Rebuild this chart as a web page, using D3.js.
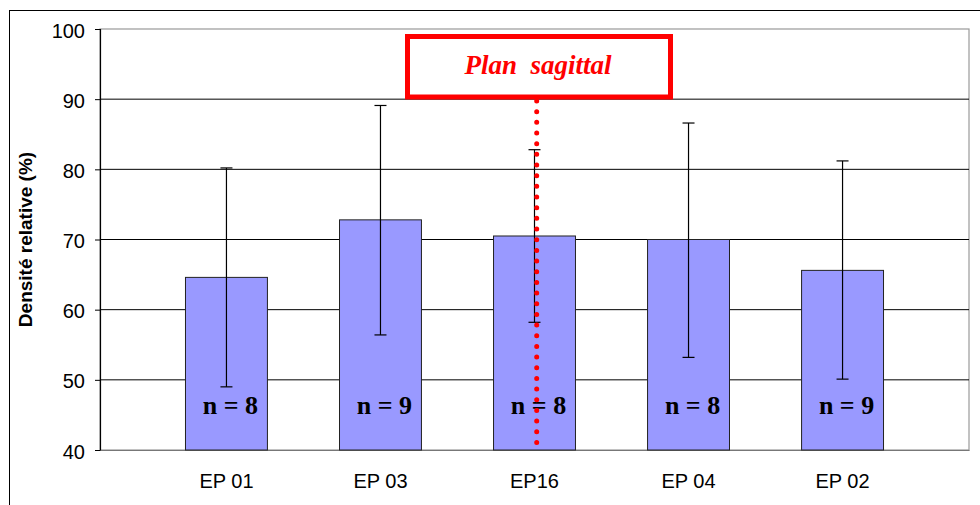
<!DOCTYPE html>
<html>
<head>
<meta charset="utf-8">
<script src="https://cdn.jsdelivr.net/npm/d3@7/dist/d3.min.js"></script>
<style>
  html, body { margin: 0; padding: 0; background: #fff; }
  svg { display: block; }
</style>
</head>
<body>
<svg id="chart" width="980" height="505"></svg>
<script>
// ---- data ----
const categories = ["EP 01", "EP 03", "EP16", "EP 04", "EP 02"];
const means      = [64.6, 72.8, 70.5, 70.0, 65.6];
const errHigh    = [80.2, 89.1, 82.8, 86.6, 81.2];
const errLow     = [49.0, 56.4, 58.2, 53.2, 50.1];
const nValues    = [8, 9, 8, 8, 9];
const yTicks     = [40, 50, 60, 70, 80, 90, 100];
const yTitle     = "Densité relative (%)";
const annotation = "Plan  sagittal";

(function () {
// ---- layout ----
const svg = d3.select("#chart");
const pLeft = 100, pRight = 969, pTop = 29, pBottom = 450;

const x = d3.scaleBand().domain(categories).range([pLeft, pRight])
  .paddingInner(0.468).paddingOuter(0.555);
const y = d3.scaleLinear().domain([40, 100]).range([pBottom, pTop]);

// outer chart frame
svg.append("rect").attr("x", 9.5).attr("y", 10.5).attr("width", 1000).attr("height", 1000)
  .attr("fill", "none").attr("stroke", "#000").attr("stroke-width", 1);

// plot area border
svg.append("rect").attr("x", pLeft).attr("y", pTop).attr("width", pRight - pLeft).attr("height", pBottom - pTop)
  .attr("fill", "#fff").attr("stroke", "#999").attr("stroke-width", 1.2);

// gridlines
svg.append("g").selectAll("line").data(yTicks.filter(d => d > 40 && d < 100)).join("line")
  .attr("x1", pLeft).attr("x2", pRight)
  .attr("y1", d => y(d)).attr("y2", d => y(d))
  .attr("stroke", "#000").attr("stroke-width", 1);

// y axis
const yAxis = d3.axisLeft(y).tickValues(yTicks).tickSize(5).tickPadding(10).tickFormat(d3.format("d"));
const gy = svg.append("g").attr("transform", `translate(${pLeft},0)`).call(yAxis);
gy.select(".domain").attr("stroke", "#000").attr("stroke-width", 1.2);
gy.selectAll(".tick line").attr("stroke", "#000");
gy.selectAll(".tick text").attr("font-family", "Liberation Sans, Arial, sans-serif")
  .attr("font-size", 20).attr("fill", "#000").attr("dy", "0.4em");

// x axis
const xAxis = d3.axisBottom(x).tickSize(0).tickPadding(24);
const gx = svg.append("g").attr("transform", `translate(0,${pBottom})`).call(xAxis);
gx.select(".domain").attr("stroke", "#777").attr("stroke-width", 1.2);
gx.selectAll(".tick text").attr("font-family", "Liberation Sans, Arial, sans-serif")
  .attr("font-size", 20).attr("fill", "#000");

// y title
svg.append("text")
  .attr("transform", `translate(32,${(pTop + pBottom) / 2}) rotate(-90)`)
  .attr("text-anchor", "middle")
  .attr("font-family", "Liberation Sans, Arial, sans-serif")
  .attr("font-weight", "bold").attr("font-size", 19)
  .text(yTitle);

// bars
svg.append("g").selectAll("rect").data(categories).join("rect")
  .attr("x", d => x(d))
  .attr("y", (d, i) => y(means[i]))
  .attr("width", x.bandwidth())
  .attr("height", (d, i) => y(40) - y(means[i]))
  .attr("fill", "#9999FF").attr("stroke", "#222").attr("stroke-width", 1);

// error bars
const eg = svg.append("g").attr("stroke", "#000").attr("stroke-width", 1.2);
categories.forEach((c, i) => {
  const cx = x(c) + x.bandwidth() / 2;
  eg.append("line").attr("x1", cx).attr("x2", cx).attr("y1", y(errHigh[i])).attr("y2", y(errLow[i]));
  eg.append("line").attr("x1", cx - 6).attr("x2", cx + 6).attr("y1", y(errHigh[i])).attr("y2", y(errHigh[i]));
  eg.append("line").attr("x1", cx - 6).attr("x2", cx + 6).attr("y1", y(errLow[i])).attr("y2", y(errLow[i]));
});

// n labels
svg.append("g").selectAll("text").data(categories).join("text")
  .attr("x", d => x(d) + x.bandwidth() / 2 + 4)
  .attr("y", y(45.2))
  .attr("text-anchor", "middle")
  .attr("font-family", "Liberation Serif, 'Times New Roman', serif")
  .attr("font-weight", "bold").attr("font-size", 26)
  .text((d, i) => `n = ${nValues[i]}`);

// annotation: red dotted line and box
const ax = x("EP16") + x.bandwidth() / 2 + 2.2;
svg.append("line").attr("x1", ax).attr("x2", ax).attr("y1", 101).attr("y2", 443)
  .attr("stroke", "#FF0000").attr("stroke-width", 5)
  .attr("stroke-linecap", "round").attr("stroke-dasharray", "0 10.67");

svg.append("rect").attr("x", 407.5).attr("y", 36.5).attr("width", 263).attr("height", 60.5)
  .attr("fill", "#fff").attr("stroke", "#FF0000").attr("stroke-width", 5);

svg.append("text").attr("x", 538).attr("y", 74)
  .attr("text-anchor", "middle")
  .attr("font-family", "Liberation Serif, 'Times New Roman', serif")
  .attr("font-weight", "bold").attr("font-style", "italic").attr("font-size", 27)
  .attr("fill", "#FF0000")
  .style("white-space", "pre")
  .text(annotation);
})();
</script>
</body>
</html>
